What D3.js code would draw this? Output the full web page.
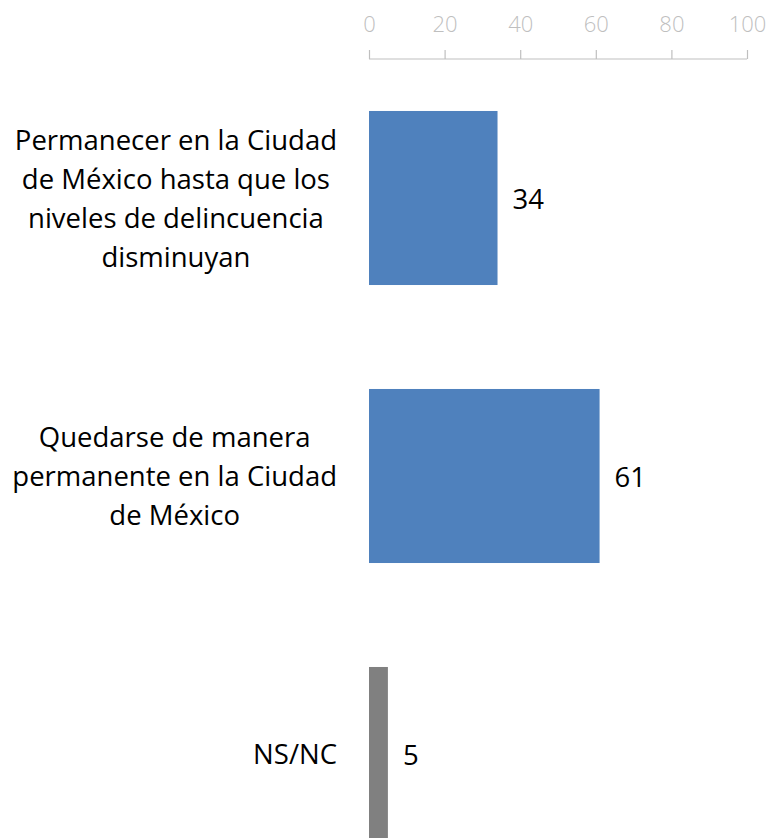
<!DOCTYPE html>
<html>
<head>
<meta charset="utf-8">
<script src="https://cdn.jsdelivr.net/npm/d3@7"></script>
<style>
  html, body { margin: 0; padding: 0; background: #fff; }
  svg { display: block; }
  text { font-family: "Open Sans", "Noto Sans", sans-serif; }
</style>
</head>
<body>
<svg id="chart" width="769" height="838"></svg>
<script>
const categories = [
  ["Permanecer en la Ciudad", "de México hasta que los", "niveles de delincuencia", "disminuyan"],
  ["Quedarse de manera", "permanente en la Ciudad", "de México"],
  ["NS/NC"]
];
const values = [34, 61, 5];
const barColors = ["#4f81bd", "#4f81bd", "#808080"];
const tickValues = [0, 20, 40, 60, 80, 100];

const svg = d3.select("#chart");
const ids = categories.map((c, i) => "c" + i);

const x = d3.scaleLinear().domain([0, 100]).range([369, 747]);
const y = d3.scaleBand().domain(ids).range([59, 893]).paddingInner(0.374).paddingOuter(0.187);

// Axis at top
const axisG = svg.append("g").attr("transform", "translate(0,59)");
axisG.call(d3.axisTop(x).tickValues(tickValues).tickSize(9).tickPadding(18).tickFormat(d3.format("d")));
axisG.select(".domain").attr("stroke", "#bfbfbf").attr("stroke-width", 1.2)
  .attr("d", `M${x(0)},0H${x(100)}`);
axisG.selectAll(".tick line").attr("stroke", "#bfbfbf").attr("stroke-width", 1.2);
axisG.selectAll(".tick text").attr("fill", "#bfbfbf").attr("font-size", 22)
  .attr("font-family", "'Open Sans', sans-serif").attr("font-weight", 300);

// Bars
svg.selectAll("rect.bar").data(values).enter().append("rect")
  .attr("class", "bar")
  .attr("x", x(0))
  .attr("y", (d, i) => y(ids[i]))
  .attr("width", d => x(d) - x(0))
  .attr("height", y.bandwidth())
  .attr("fill", (d, i) => barColors[i]);

// Value labels
svg.selectAll("text.val").data(values).enter().append("text")
  .attr("class", "val")
  .attr("x", d => x(d) + 15)
  .attr("y", (d, i) => y(ids[i]) + y.bandwidth() / 2)
  .attr("dy", "0.4em")
  .attr("font-size", 27.5)
  .attr("fill", "#000")
  .text(d => d);

// Category labels
const lineH = 39;
const fs = 27.5;
categories.forEach((lines, i) => {
  const g = svg.append("g");
  const cy = y(ids[i]) + y.bandwidth() / 2;
  const t = g.append("text").attr("font-size", fs).attr("fill", "#000").attr("text-anchor", "middle");
  const n = lines.length;
  lines.forEach((ln, j) => {
    t.append("tspan").attr("x", 0).attr("y", cy + (j - (n - 1) / 2) * lineH).attr("dy", "0.38em").text(ln);
  });
  let w = 0;
  t.selectAll("tspan").each(function() { w = Math.max(w, this.getComputedTextLength()); });
  const cx = 337 - w / 2;
  t.selectAll("tspan").attr("x", cx);
});
</script>
</body>
</html>
